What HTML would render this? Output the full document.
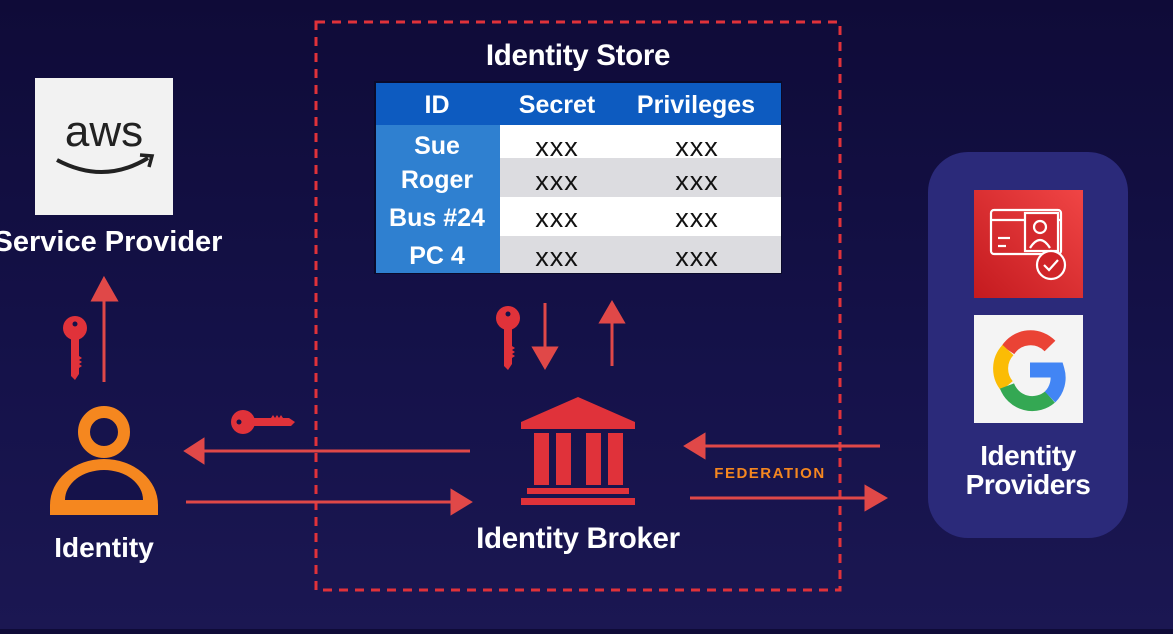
<!DOCTYPE html>
<html><head><meta charset="utf-8"><style>
html,body{margin:0;padding:0;}
body{width:1173px;height:629px;overflow:hidden;background:linear-gradient(#0f0b38,#15124a 60%,#1b1752);font-family:"Liberation Sans",sans-serif;}
</style></head><body>
<svg width="1173" height="629" viewBox="0 0 1173 629" xmlns="http://www.w3.org/2000/svg" font-family="Liberation Sans, sans-serif">
<defs>
<linearGradient id="rg" x1="1" y1="0" x2="0" y2="1"><stop offset="0" stop-color="#f04545"/><stop offset="1" stop-color="#c41a1f"/></linearGradient>
<g id="key"><circle cx="0" cy="0" r="12" fill="#e0323a"/><circle cx="0" cy="-4" r="2.5" fill="#15124a"/><path d="M-4 8 L4 8 L4 46 L0 52 L-4 48 Z" fill="#e0323a"/><path d="M4 28 l3 2 l-3 2 l3 2 l-3 2 l3 2 l-3 2" fill="#e0323a"/></g>
</defs>
<rect x="316" y="22" width="524" height="568" fill="none" stroke="#e0323a" stroke-width="3" stroke-dasharray="9 7"/>
<text x="578" y="65" fill="#fff" font-size="29.5" font-weight="bold" text-anchor="middle" letter-spacing="-0.3">Identity Store</text>
<rect x="374" y="81" width="408" height="193" fill="#0a0a2a"/>
<rect x="376" y="83" width="405" height="42" fill="#0d5bc0"/>
<rect x="376" y="125" width="124" height="148" fill="#2f80d0"/>
<rect x="500" y="125" width="281" height="33" fill="#fff"/>
<rect x="500" y="158" width="281" height="39" fill="#dcdce0"/>
<rect x="500" y="197" width="281" height="39" fill="#fff"/>
<rect x="500" y="236" width="281" height="37" fill="#dcdce0"/>
<g fill="#fff" font-size="25" font-weight="bold" text-anchor="middle">
<text x="437" y="113">ID</text><text x="557" y="113">Secret</text><text x="696" y="113">Privileges</text>
<text x="437" y="154">Sue</text><text x="437" y="188">Roger</text><text x="437" y="226">Bus #24</text><text x="437" y="264">PC 4</text>
</g>
<g fill="#111" font-size="27" text-anchor="middle" letter-spacing="1">
<text x="557" y="156">xxx</text><text x="697" y="156">xxx</text>
<text x="557" y="190">xxx</text><text x="697" y="190">xxx</text>
<text x="557" y="227">xxx</text><text x="697" y="227">xxx</text>
<text x="557" y="266">xxx</text><text x="697" y="266">xxx</text>
</g>
<rect x="35" y="78" width="138" height="137" fill="#f2f2f2"/>
<text x="104" y="146" fill="#222" font-size="44" text-anchor="middle">aws</text>
<path d="M57 160 Q104 185 148 158" fill="none" stroke="#222" stroke-width="4"/>
<path d="M140 155 L152 156 L149 167" fill="none" stroke="#222" stroke-width="3.5"/>
<text x="108" y="251" fill="#fff" font-size="29" font-weight="bold" text-anchor="middle">Service Provider</text>
<g stroke="#e04848" stroke-width="3" fill="#e04848">
<line x1="104" y1="382" x2="104" y2="295"/><path d="M93 300 L104 279 L116 300 Z"/>
<line x1="545" y1="303" x2="545" y2="352"/><path d="M534 348 L545 367 L556 348 Z"/>
<line x1="612" y1="366" x2="612" y2="318"/><path d="M601 322 L612 303 L623 322 Z"/>
<line x1="470" y1="451" x2="200" y2="451"/><path d="M203 440 L186 451 L203 462 Z"/>
<line x1="186" y1="502" x2="455" y2="502"/><path d="M452 491 L470 502 L452 513 Z"/>
<line x1="880" y1="446" x2="700" y2="446"/><path d="M704 435 L686 446 L704 457 Z"/>
<line x1="690" y1="498" x2="870" y2="498"/><path d="M866 487 L885 498 L866 509 Z"/>
</g>
<use href="#key" x="75" y="328"/>
<use href="#key" x="508" y="318"/>
<g transform="translate(243 422) rotate(-90)"><use href="#key"/></g>
<circle cx="104" cy="432" r="20" fill="none" stroke="#f5871f" stroke-width="12"/>
<path d="M50 515 L50 505 A54 46 0 0 1 158 505 L158 515 Z" fill="#f5871f"/>
<path d="M65 500 A39 30 0 0 1 143 500 Z" fill="#15124a"/>
<text x="104" y="557" fill="#fff" font-size="28" font-weight="bold" text-anchor="middle">Identity</text>
<g fill="#e0323a">
<path d="M578 397 L635 422 L635 429 L521 429 L521 422 Z"/>
<rect x="534" y="433" width="15" height="52"/><rect x="556" y="433" width="15" height="52"/>
<rect x="586" y="433" width="15" height="52"/><rect x="608" y="433" width="15" height="52"/>
<rect x="527" y="488" width="102" height="6"/><rect x="521" y="498" width="114" height="7"/>
</g>
<text x="578" y="548" fill="#fff" font-size="29.5" font-weight="bold" text-anchor="middle" letter-spacing="-0.3">Identity Broker</text>
<text x="770" y="478" fill="#f5871f" font-size="15" font-weight="bold" text-anchor="middle" letter-spacing="1.5">FEDERATION</text>
<rect x="928" y="152" width="200" height="386" rx="40" fill="#2b2a7a"/>
<rect x="974" y="190" width="109" height="108" fill="url(#rg)"/>
<g fill="none" stroke="#fff" stroke-width="2.2">
<rect x="991" y="210" width="70" height="44" rx="3"/><line x1="991" y1="220" x2="1061" y2="220"/>
<line x1="998" y1="238" x2="1010" y2="238"/><line x1="998" y1="246" x2="1006" y2="246"/>
<rect x="1025" y="213" width="33" height="38" fill="#d52a2e"/>
<circle cx="1040" cy="227" r="6"/><path d="M1030 248 Q1040 232 1050 248"/>
<circle cx="1051" cy="265" r="14" fill="#d02428"/><path d="M1044 265 L1049 270 L1058 260"/>
</g>
<rect x="974" y="315" width="109" height="108" fill="#f4f4f4"/>
<g fill="none" stroke-width="15">
<path d="M1050 346 A27 27 0 0 0 1008 350" stroke="#ea4335"/>
<path d="M1008 350 A27 27 0 0 0 1007 386" stroke="#fbbc05"/>
<path d="M1007 386 A27 27 0 0 0 1050 397" stroke="#34a853"/>
<path d="M1050 397 A27 27 0 0 0 1057 370 L1030 370" stroke="#4285f4"/>
</g>
<text x="1028" y="465" fill="#fff" font-size="28" font-weight="bold" text-anchor="middle" letter-spacing="-0.5">Identity</text>
<text x="1028" y="494" fill="#fff" font-size="28" font-weight="bold" text-anchor="middle" letter-spacing="-0.5">Providers</text>
</svg>
</body></html>
